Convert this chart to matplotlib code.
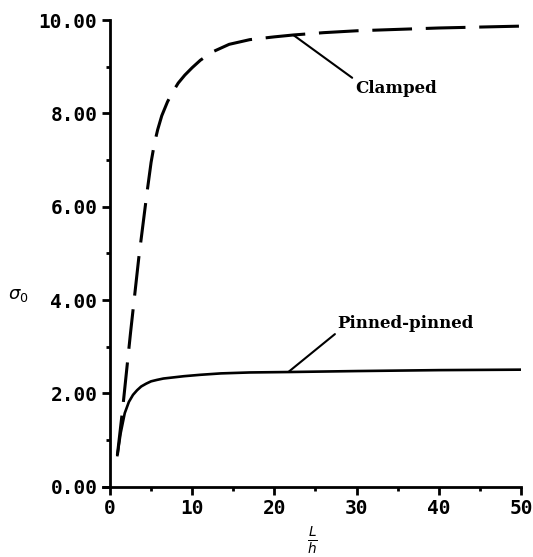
import matplotlib
matplotlib.use("Agg")
import matplotlib.pyplot as plt
from matplotlib.ticker import MultipleLocator, FormatStrFormatter

# slenderness ratio L/h and buckling stress for two end conditions
clamped_x = [0.9, 1.5, 2.0, 2.5, 3.0, 3.5, 4.0, 4.5, 5.0, 5.4, 5.8, 6.3, 7.0, 7.6,
             8.3, 9.1, 10.0, 11.0, 12.5, 14.5, 17.0, 20.0, 22.3, 26.0, 30.0, 35.0,
             40.0, 45.0, 50.0]
clamped_y = [0.68, 1.6, 2.45, 3.3, 4.1, 4.9, 5.6, 6.3, 6.95, 7.35, 7.65, 7.95, 8.25,
             8.45, 8.65, 8.82, 8.98, 9.14, 9.32, 9.48, 9.58, 9.64, 9.68, 9.73,
             9.77, 9.8, 9.83, 9.85, 9.87]

pinned_x = [0.9, 1.3, 1.8, 2.3, 2.8, 3.3, 3.8, 4.4, 5.0, 5.7, 6.5, 7.5, 9.0, 11.0,
            13.5, 17.0, 22.0, 30.0, 40.0, 50.0]
pinned_y = [0.68, 1.15, 1.58, 1.82, 1.97, 2.07, 2.15, 2.21, 2.26, 2.29, 2.32, 2.34,
            2.37, 2.40, 2.43, 2.45, 2.46, 2.48, 2.50, 2.51]

fig = plt.figure(figsize=(5.33, 5.57), dpi=100)
ax = fig.add_axes([0.194, 0.126, 0.7835, 0.838])

ax.plot(clamped_x, clamped_y, color="black", lw=2.2, dashes=(13, 4.5),
        solid_capstyle="butt", dash_capstyle="butt")
ax.plot(pinned_x, pinned_y, color="black", lw=1.9)

ax.set_xlim(-0.8, 50)
ax.set_ylim(0, 10)
ax.spines["left"].set_position(("data", 0))
ax.spines["top"].set_visible(False)
ax.spines["right"].set_visible(False)
for s in ("left", "bottom"):
    ax.spines[s].set_linewidth(2.0)

ax.xaxis.set_major_locator(MultipleLocator(10))
ax.xaxis.set_minor_locator(MultipleLocator(5))
ax.yaxis.set_major_locator(MultipleLocator(2))
ax.yaxis.set_minor_locator(MultipleLocator(1))
ax.yaxis.set_major_formatter(FormatStrFormatter("%.2f"))
ax.tick_params(which="major", length=6, width=2, direction="out", pad=3)
ax.tick_params(which="minor", length=3, width=2, direction="out")

for lab in ax.get_xticklabels() + ax.get_yticklabels():
    lab.set_fontfamily("DejaVu Sans Mono")
    lab.set_fontweight("bold")
    lab.set_fontsize(14)

fig.text(18 / 533, 1 - 295 / 557, r"$\sigma_0$", fontsize=13, ha="center", va="center")
fig.text(312 / 533, 1 - 541 / 557, r"$\frac{L}{h}$", fontsize=14, ha="center", va="center")

ann_font = dict(family="DejaVu Serif", weight="bold", size=12)
ax.annotate("Clamped", xy=(22.3, 9.68), xytext=(29.8, 8.72), ha="left", va="top",
            arrowprops=dict(arrowstyle="-", color="black", lw=1.5, relpos=(0, 1),
                            shrinkA=0, shrinkB=0), **ann_font)
ax.annotate("Pinned-pinned", xy=(21.7, 2.46), xytext=(27.7, 3.32), ha="left", va="bottom",
            arrowprops=dict(arrowstyle="-", color="black", lw=1.5, relpos=(0, 0),
                            shrinkA=0, shrinkB=0), **ann_font)

fig.savefig("out.png", dpi=100)
